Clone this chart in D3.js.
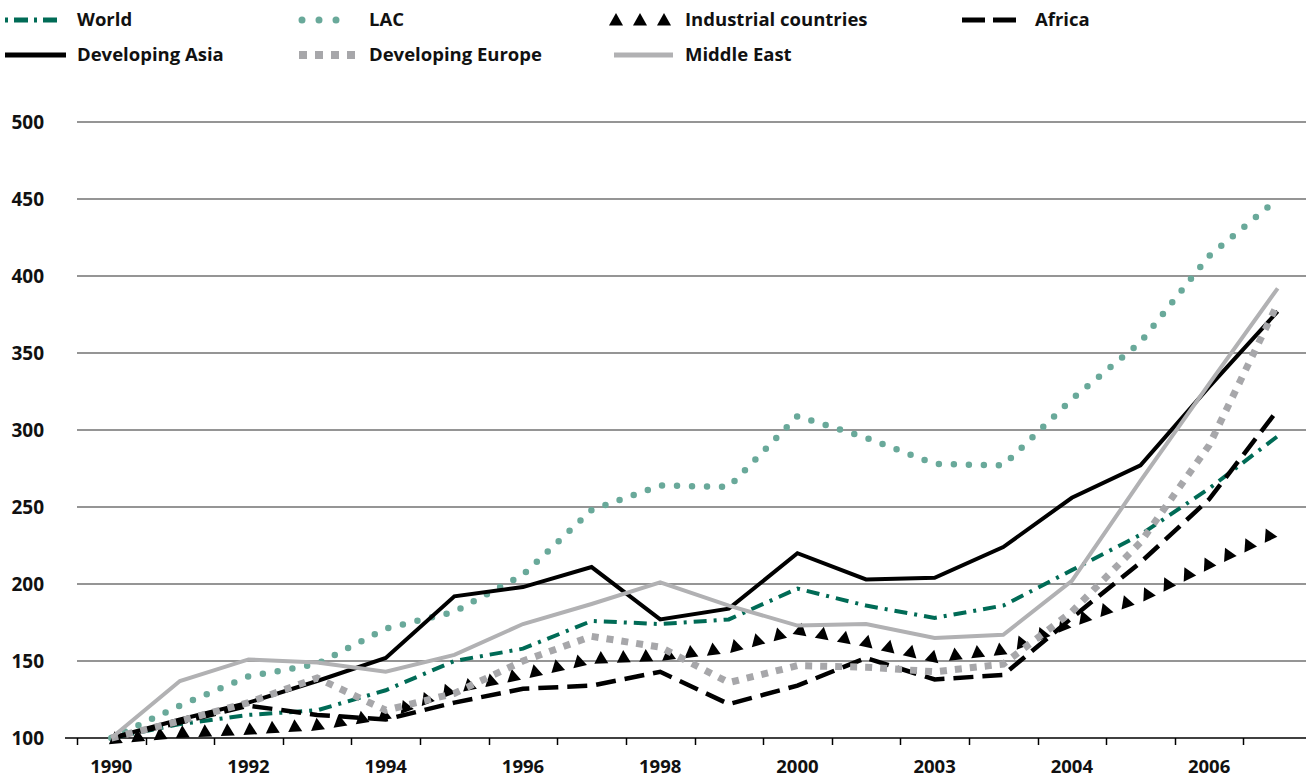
<!DOCTYPE html>
<html>
<head>
<meta charset="utf-8">
<script src="https://cdn.jsdelivr.net/npm/d3@7"></script>
<style>
  body { margin: 0; background: #fff; }
  svg { display: block; }
  text { font-family: "Open Sans", sans-serif; font-weight: 700; fill: #111; }
</style>
</head>
<body>
<svg width="1306" height="780"></svg>
<script>
// index data, 1990 = 100
var years = d3.range(1990, 2008);
var tickLabels = ["1990", "1992", "1994", "1996", "1998", "2000", "2003", "2004", "2006"];
var yTicks = [100, 150, 200, 250, 300, 350, 400, 450, 500];

var world      = [100, 109, 115, 118, 131, 150, 158, 176, 174, 177, 197, 186, 178, 186, 209, 232, 262, 296];
var lac        = [100, 121, 140, 148, 171, 182, 206, 248, 264, 263, 309, 295, 278, 277, 320, 357, 413, 450];
var industrial = [100, 104, 106, 109, 116, 133, 142, 152, 154, 159, 171, 163, 153, 158, 176, 192, 214, 235];
var africa     = [100, 110, 121, 115, 112, 123, 132, 134, 143, 122, 134, 152, 138, 141, 178, 214, 255, 313];
var devAsia    = [100, 112, 123, 137, 152, 192, 198, 211, 177, 184, 220, 203, 204, 224, 256, 277, 328, 377];
var devEurope  = [100, 111, 123, 139, 118, 129, 150, 166, 159, 136, 147, 146, 143, 148, 182, 227, 290, 382];
var midEast    = [100, 137, 151, 149, 143, 154, 174, 187, 201, 186, 173, 174, 165, 167, 202, 267, 330, 392];

var series = [
  { name: "World", values: world, type: "line", color: "#006b56", width: 4, dash: "13,7,3,7", cap: "butt" },
  { name: "LAC", values: lac, type: "line", color: "#69a99a", width: 6.5, dash: "0,15", cap: "round" },
  { name: "Industrial countries", values: industrial, type: "tri", color: "#000" },
  { name: "Africa", values: africa, type: "line", color: "#000", width: 4.5, dash: "20,9", cap: "butt" },
  { name: "Developing Asia", values: devAsia, type: "line", color: "#000", width: 4, dash: null, cap: "butt" },
  { name: "Developing Europe", values: devEurope, type: "line", color: "#a7a7aa", width: 7, dash: "7,8", cap: "butt" },
  { name: "Middle East", values: midEast, type: "line", color: "#b1b1b3", width: 4, dash: null, cap: "butt" }
];

var svg = d3.select("svg");

var x = d3.scaleBand().domain(years).range([77, 1312]);
var y = d3.scaleLinear().domain([100, 500]).range([738, 122]);

// gridlines
svg.append("g").selectAll("line")
  .data(yTicks.filter(function (d) { return d > 100; }))
  .enter().append("line")
  .attr("x1", 77).attr("x2", 1306)
  .attr("y1", function (d) { return y(d); })
  .attr("y2", function (d) { return y(d); })
  .attr("stroke", "#727272").attr("stroke-width", 1.4);

// y labels
svg.append("g").selectAll("text")
  .data(yTicks)
  .enter().append("text")
  .attr("x", 44).attr("y", function (d) { return y(d); })
  .attr("dy", "0.35em")
  .attr("text-anchor", "end")
  .attr("font-size", 19)
  .text(function (d) { return d; });

// x axis
svg.append("line")
  .attr("x1", 65).attr("x2", 1306)
  .attr("y1", y(100)).attr("y2", y(100))
  .attr("stroke", "#000").attr("stroke-width", 1.5);

svg.append("g").selectAll("line")
  .data(years)
  .enter().append("line")
  .attr("x1", function (d) { return Math.round(x(d)) + 0.5; })
  .attr("x2", function (d) { return Math.round(x(d)) + 0.5; })
  .attr("y1", y(100)).attr("y2", y(100) + 7)
  .attr("stroke", "#000").attr("stroke-width", 1.5);

svg.append("g").selectAll("text")
  .data(tickLabels)
  .enter().append("text")
  .attr("x", function (d, i) { return x(years[i * 2]) + x.bandwidth() / 2; })
  .attr("y", 773)
  .attr("text-anchor", "middle")
  .attr("font-size", 18.5)
  .text(function (d) { return d; });

var line = d3.line()
  .x(function (d, i) { return x(years[i]) + x.bandwidth() / 2; })
  .y(function (d) { return y(d); });

var triPath = "M0,-6.5L7,6L-7,6Z";

function placeTriangles(g, pathNode, step, start) {
  var len = pathNode.getTotalLength();
  for (var s = start; s <= len + 0.1; s += step) {
    var p = pathNode.getPointAtLength(s);
    var p2 = pathNode.getPointAtLength(Math.min(len, s + 1));
    var p1 = pathNode.getPointAtLength(Math.max(0, s - 1));
    var ang = Math.atan2(p2.y - p1.y, p2.x - p1.x) * 180 / Math.PI;
    g.append("path")
      .attr("d", triPath)
      .attr("transform", "translate(" + p.x + "," + p.y + ") rotate(" + ang + ")")
      .attr("fill", "#000");
  }
}

var plot = svg.append("g");
series.forEach(function (s) {
  if (s.type === "tri") {
    var hidden = plot.append("path")
      .attr("d", line(s.values))
      .attr("fill", "none").attr("stroke", "none");
    placeTriangles(plot.append("g"), hidden.node(), 22.5, 4);
  } else {
    plot.append("path")
      .attr("d", line(s.values))
      .attr("fill", "none")
      .attr("stroke", s.color)
      .attr("stroke-width", s.width)
      .attr("stroke-dasharray", s.dash)
      .attr("stroke-linecap", s.cap)
      .attr("stroke-linejoin", "miter");
  }
});

// legend
var legendPos = [
  { sx: 5, tx: 77, y: 20 }, { sx: 299, tx: 369, y: 20 }, { sx: 614, tx: 685, y: 20 }, { sx: 962, tx: 1035, y: 20 },
  { sx: 5, tx: 77, y: 55 }, { sx: 299, tx: 369, y: 55 }, { sx: 614, tx: 685, y: 55 }
];
var legendDash = ["3,6,14,6", "0,17", null, "23,8", null, "8,8", null];
var legendLen = [52, 51, 0, 54, 61, 56, 59];
var legendStart = [5, 302, 0, 962, 5, 299, 614];

var lg = svg.append("g");
series.forEach(function (s, i) {
  var p = legendPos[i];
  if (s.type === "tri") {
    [616, 640, 664].forEach(function (cx) {
      lg.append("path").attr("d", triPath)
        .attr("transform", "translate(" + cx + "," + (p.y - 0.5) + ")")
        .attr("fill", "#000");
    });
  } else {
    lg.append("line")
      .attr("x1", legendStart[i]).attr("x2", legendStart[i] + legendLen[i])
      .attr("y1", p.y).attr("y2", p.y)
      .attr("stroke", s.color)
      .attr("stroke-width", s.cap === "round" ? 7 : (i === 5 ? 8 : 5))
      .attr("stroke-dasharray", legendDash[i])
      .attr("stroke-linecap", s.cap);
  }
  lg.append("text")
    .attr("x", p.tx).attr("y", p.y)
    .attr("dy", "0.35em")
    .attr("font-size", 18.5)
    .text(s.name);
});
</script>
</body>
</html>
